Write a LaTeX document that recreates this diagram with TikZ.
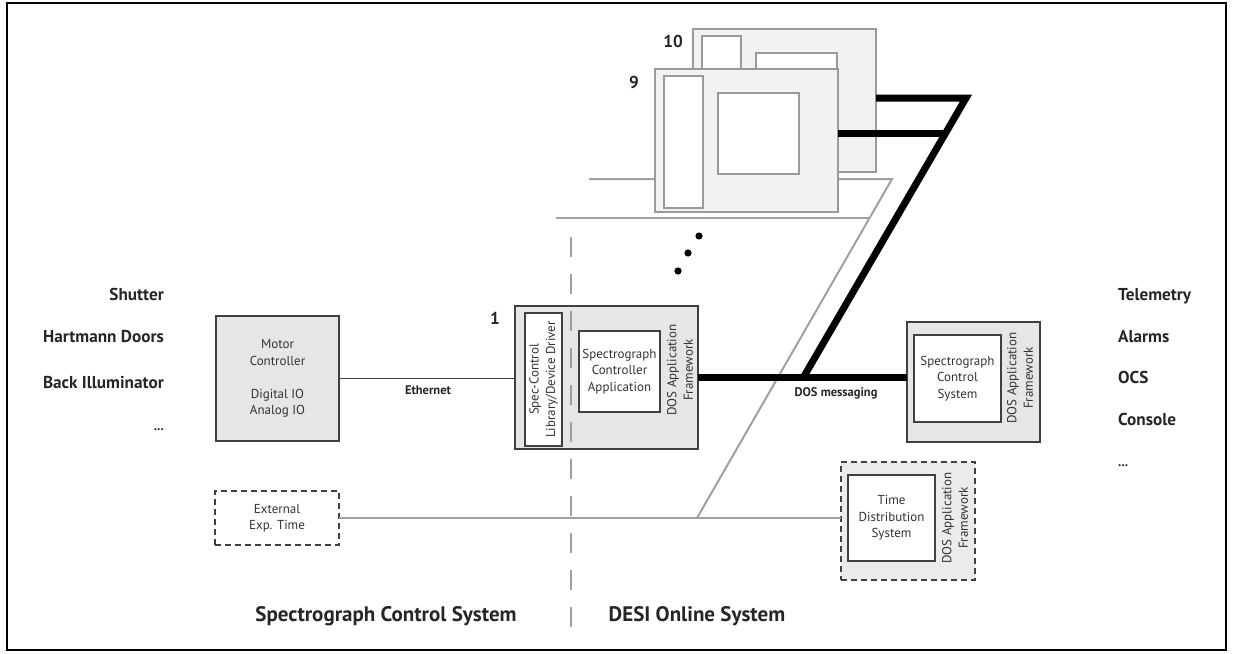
\documentclass[tikz,border=0pt]{standalone}
\usepackage{fontspec}
\setmainfont{PT Sans}
\usetikzlibrary{calc}
\definecolor{boxfill}{HTML}{E6E6E6}
\definecolor{boxline}{HTML}{404040}
\definecolor{ghostfill}{HTML}{F2F2F2}
\definecolor{ghostline}{HTML}{9A9A9A}
\definecolor{grayline}{HTML}{A0A0A0}
\definecolor{txtcol}{HTML}{333333}
\tikzset{
  box/.style={draw=boxline, fill=boxfill, line width=1.8pt, inner sep=0pt, outer sep=0pt},
  dbox/.style={draw=boxline, line width=1.8pt, dash pattern=on 6pt off 4pt, inner sep=0pt, outer sep=0pt},
  inbox/.style={draw=boxline, fill=white, line width=1.5pt, inner sep=0pt, outer sep=0pt},
  ghost/.style={draw=ghostline, fill=ghostfill, line width=1.5pt, inner sep=0pt, outer sep=0pt},
  ghostin/.style={draw=ghostline, fill=white, line width=1.5pt, inner sep=0pt, outer sep=0pt},
  txt/.style={font=\fontsize{13}{16.5}\selectfont, text=txtcol, align=center, inner sep=0pt},
  lbl/.style={font=\fontsize{17.2}{19}\selectfont\bfseries, text=black!85, inner sep=0pt},
  bottomlbl/.style={font=\fontsize{21}{23}\selectfont\bfseries, text=black!85, inner sep=0pt},
  linelbl/.style={font=\fontsize{12.5}{14}\selectfont\bfseries, text=black!85, inner sep=0pt},
  ethline/.style={draw=boxline, line width=1.5pt},
  graylink/.style={draw=grayline, line width=2pt},
  dosline/.style={draw=black, line width=7pt, line join=miter},
  divider/.style={draw=grayline, line width=2pt, dash pattern=on 20pt off 17pt},
}
\begin{document}
\begin{tikzpicture}[x=1pt,y=-1pt]
\useasboundingbox (0,0) rectangle (1233,653);
\draw[black, line width=1.5pt] (7,3) rectangle (1226,650);

% coordinates
\coordinate (p1) at (589,179);
\coordinate (p2) at (892,179);
\coordinate (p3) at (556,218);
\coordinate (p4) at (869.5,218);
\coordinate (p5) at (697,518);
\coordinate (k) at (966,98);
\coordinate (k9) at (946,133);
\coordinate (j) at (803,378);
\coordinate (d1) at (571,237);
\coordinate (d2) at (571,636);

% gray plane lines
\draw[graylink] (p1) -- (p2) -- (p5);
\draw[graylink] (p3) -- (p4);

% stacked boxes 10 and 9
\node[ghost, minimum width=183pt, minimum height=143pt] (b10) at (784.5,100.5) {};
\node[ghostin, minimum width=39pt, minimum height=132pt] (b10l) at (721.5,102) {};
\node[ghostin, minimum width=81pt, minimum height=81pt] (b10a) at (796.5,93.5) {};
\node[ghost, minimum width=183pt, minimum height=143pt] (b9) at (746.5,140.5) {};
\node[ghostin, minimum width=39pt, minimum height=132pt] (b9l) at (683.5,142) {};
\node[ghostin, minimum width=81pt, minimum height=81pt] (b9a) at (758.5,133.5) {};
\node[lbl] (n10) at (673,41) {10};
\node[lbl] (n9) at (634,82) {9};

% dots
\fill[black] (699,236) circle[radius=3.6pt];
\fill[black] (688,253) circle[radius=3.6pt];
\fill[black] (678,271) circle[radius=3.6pt];

% left side
\node[box, txt, minimum width=123pt, minimum height=125pt] (mc) at (277.5,378.5) {Motor\\Controller\\[16.5pt]Digital IO\\Analog IO};
\node[dbox, txt, fill=white, minimum width=124pt, minimum height=54pt] (ext) at (277,518) {External\\Exp. Time};

% box 1
\node[box, minimum width=183pt, minimum height=143pt] (b1) at (606.5,377.5) {};
\node[inbox, minimum width=37pt, minimum height=133pt] (b1l) at (543.5,379.5) {};
\node[txt, rotate=90] (b1lt) at (b1l) {Spec-Control\\Library/Device Driver};
\node[inbox, txt, minimum width=81pt, minimum height=81pt] (b1a) at (619.5,371.5) {Spectrograph\\Controller\\Application};
\node[txt, rotate=90] (b1f) at (680,370) {DOS Application\\Framework};
\node[lbl] (n1) at (495,318) {1};

% right box
\node[box, minimum width=133pt, minimum height=120pt] (rs) at (973.5,382) {};
\node[inbox, txt, minimum width=87pt, minimum height=87pt] (rsi) at (957.5,378.5) {Spectrograph\\Control\\System};
\node[txt, rotate=90] (rsf) at (1020,378) {DOS Application\\Framework};

% time distribution
\node[dbox, fill=boxfill!80!white, minimum width=134pt, minimum height=118pt] (tds) at (908,521) {};
\node[inbox, txt, minimum width=87pt, minimum height=86pt] (tdsi) at (891.5,518) {Time\\Distribution\\System};
\node[txt, rotate=90] (tdsf) at (955,518) {DOS Application\\Framework};

% connectors
\draw[ethline] (mc.east) -- (mc.east -| b1.west);
\node[linelbl] (ethl) at (428,390) {Ethernet};
\draw[graylink] (ext.east) -- (ext.east -| tds.west);
\draw[dosline] (b1.east) -- (b1.east -| rs.west);
\draw[dosline] (b10.east |- k) -- (k) -- (j);
\draw[dosline] (b9.east |- k9) -- (k9);
\node[linelbl] (dosl) at (836,393) {DOS messaging};

% divider
\draw[divider] (d1) -- (d2);

% side labels
\node[lbl, anchor=base east] (l1) at (164,300) {Shutter};
\node[lbl, anchor=base east] (l2) at (164,342) {Hartmann Doors};
\node[lbl, anchor=base east] (l3) at (164,388) {Back Illuminator};
\node[lbl, anchor=base east, font=\fontsize{13}{14}\selectfont\bfseries] (l4) at (164,430) {...};
\node[lbl, anchor=base west] (r1) at (1118,300) {Telemetry};
\node[lbl, anchor=base west] (r2) at (1118,342) {Alarms};
\node[lbl, anchor=base west] (r3) at (1118,383) {OCS};
\node[lbl, anchor=base west] (r4) at (1118,425) {Console};
\node[lbl, anchor=base west, font=\fontsize{13}{14}\selectfont\bfseries] (r5) at (1118,466) {...};

% bottom labels
\node[bottomlbl, anchor=base] (sl) at (386,621) {Spectrograph Control System};
\node[bottomlbl, anchor=base] (dl) at (697,621) {DESI Online System};
\end{tikzpicture}
\end{document}
